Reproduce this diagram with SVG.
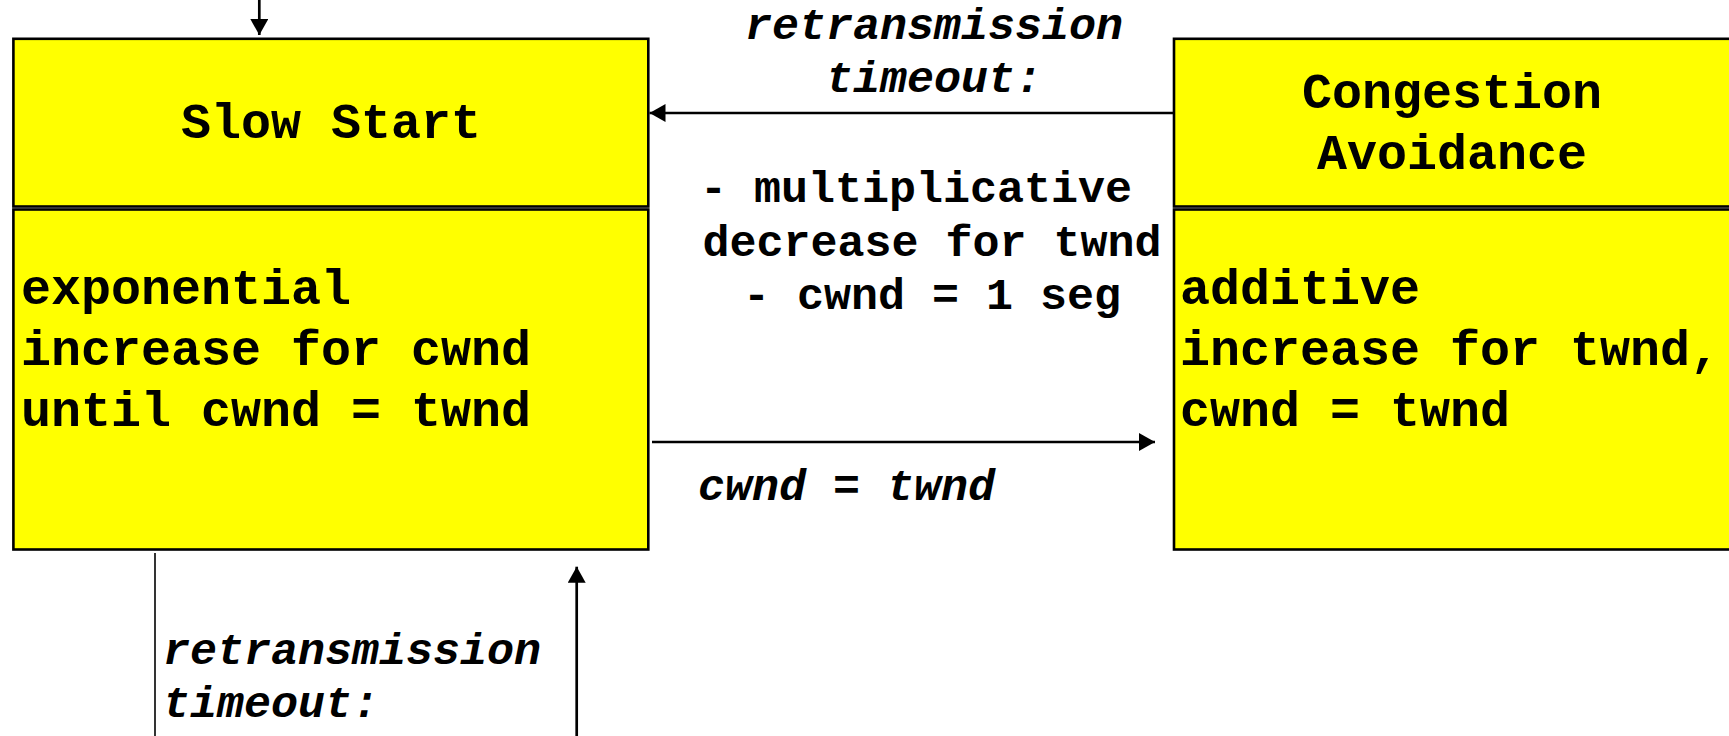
<svg xmlns="http://www.w3.org/2000/svg" width="1729" height="736" viewBox="0 0 1729 736">
  <style>
    .box { fill: #ffff00; stroke: #000; stroke-width: 2.6; }
    .title { font-family: "Courier New", "Liberation Mono", monospace; font-weight: bold; font-size: 50px; fill: #000; }
    .body { font-family: "Courier New", "Liberation Mono", monospace; font-weight: bold; font-size: 50px; fill: #000; }
    .lbl { font-family: "Courier New", "Liberation Mono", monospace; font-weight: bold; font-size: 45px; fill: #000; }
    .it { font-style: italic; }
    .wire { stroke: #000; stroke-width: 2.7; fill: none; }
    .thin { stroke: #000; stroke-width: 1.6; fill: none; }
  </style>
  <defs>
    <marker id="head" viewBox="0 0 16 18" refX="16" refY="9" markerWidth="16" markerHeight="18" markerUnits="userSpaceOnUse" orient="auto">
      <path d="M0,0 L16,9 L0,18 Z" fill="#000"/>
    </marker>
  </defs>

  <rect width="1729" height="736" fill="#fff"/>

  <!-- state: Slow Start -->
  <g id="slow-start">
    <rect class="box" x="13.4" y="38.8" width="634.9" height="167.7"/>
    <rect class="box" x="13.4" y="209.5" width="634.9" height="340"/>
    <text class="title" x="331" y="138" text-anchor="middle">Slow Start</text>
    <text class="body" x="21" y="304">exponential</text>
    <text class="body" x="21" y="365">increase for cwnd</text>
    <text class="body" x="21" y="426">until cwnd = twnd</text>
  </g>

  <!-- state: Congestion Avoidance -->
  <g id="congestion-avoidance">
    <rect class="box" x="1174" y="38.8" width="600" height="167.7"/>
    <rect class="box" x="1174" y="209.5" width="600" height="340"/>
    <text class="title" x="1452" y="108" text-anchor="middle">Congestion</text>
    <text class="title" x="1452" y="169" text-anchor="middle">Avoidance</text>
    <text class="body" x="1180" y="304">additive</text>
    <text class="body" x="1180" y="365">increase for twnd,</text>
    <text class="body" x="1180" y="426">cwnd = twnd</text>
  </g>

  <!-- transitions -->
  <g id="connectors">
    <line class="wire" x1="259.3" y1="-4" x2="259.3" y2="35" marker-end="url(#head)"/>
    <line class="wire" x1="1174" y1="113" x2="649.5" y2="113" marker-end="url(#head)"/>
    <line class="wire" x1="652" y1="442" x2="1155" y2="442" marker-end="url(#head)"/>
    <line class="thin" x1="155" y1="553" x2="155" y2="740"/>
    <line class="wire" x1="576.7" y1="740" x2="576.7" y2="566.7" marker-end="url(#head)"/>
  </g>

  <!-- transition labels -->
  <g id="labels">
    <text class="lbl it" x="934" y="39" text-anchor="middle">retransmission</text>
    <text class="lbl it" x="934" y="92" text-anchor="middle">timeout:</text>
    <text class="lbl" x="916" y="202" text-anchor="middle">- multiplicative</text>
    <text class="lbl" x="932" y="256" text-anchor="middle">decrease for twnd</text>
    <text class="lbl" x="932" y="309" text-anchor="middle">- cwnd = 1 seg</text>
    <text class="lbl it" x="698" y="500">cwnd = twnd</text>
    <text class="lbl it" x="163" y="664">retransmission</text>
    <text class="lbl it" x="163" y="717">timeout:</text>
  </g>
</svg>
